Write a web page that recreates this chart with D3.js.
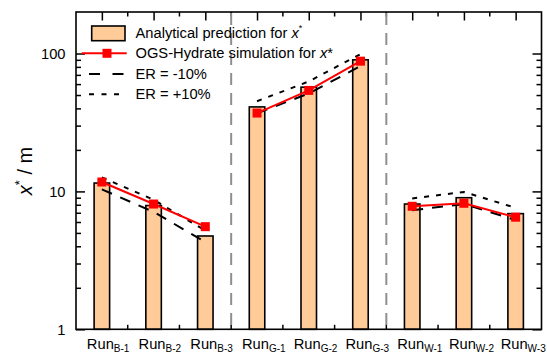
<!DOCTYPE html>
<html>
<head>
<meta charset="utf-8">
<script src="https://cdn.jsdelivr.net/npm/d3@7"></script>
<style>
  html, body { margin: 0; padding: 0; background: #fff; }
  svg { display: block; }
  text { font-family: "Liberation Sans", Arial, sans-serif; fill: #000; }
</style>
</head>
<body>
<svg id="chart" width="547" height="360"></svg>
<script>
// Runs, grouped into three series (B, G, W)
const runs = ["B-1", "B-2", "B-3", "G-1", "G-2", "G-3", "W-1", "W-2", "W-3"];
const groups = ["B", "G", "W"];
// Analytical prediction of x* (m)
const analytical = [11.5, 7.9, 4.75, 41, 57, 90, 8.1, 9.0, 6.9];
// OGS-Hydrate simulation of x* (m)
const simulation = [11.7, 8.1, 5.55, 37, 54, 88, 7.8, 8.2, 6.5];
// Error-range bounds, -10 % and +10 %
const erMinus = [10.35, 7.1, 4.3, 36.9, 51.3, 81, 7.3, 8.1, 6.2];
const erPlus = [12.65, 8.7, 5.2, 45.1, 62.7, 99, 8.9, 9.9, 7.6];
// Axis ticks
const yMajorTicks = [1, 10, 100];
const yMinorTicks = [2, 3, 4, 5, 6, 7, 8, 9, 20, 30, 40, 50, 60, 70, 80, 90];

const svg = d3.select("#chart");
const L = 76, R = 541.5, T = 12, B = 329.3;

const x = d3.scalePoint().domain(runs).range([L, R]).padding(0.5);
const y = d3.scaleLog().domain([1, 200]).range([B, T]);

const mids = runs.slice(0, -1).map((r, i) => (x(r) + x(runs[i + 1])) / 2);
const groupOf = r => r.charAt(0);

// ---- ticks (drawn first so bars cover the bottom ticks) ----
const ticks = svg.append("g");
function styleAxis(g) {
  g.select(".domain").remove();
  g.selectAll(".tick line").attr("stroke", "#000").attr("stroke-width", 1.5);
}
ticks.append("g").attr("transform", `translate(${L},0)`)
  .call(d3.axisLeft(y).tickValues(yMajorTicks).tickSize(-9).tickPadding(10.5).tickFormat(d3.format("d")))
  .call(styleAxis)
  .call(g => g.selectAll("text").attr("font-size", 14.7).attr("font-family", "Liberation Sans, Arial, sans-serif").attr("fill", "#000"));
ticks.append("g").attr("transform", `translate(${L},0)`)
  .call(d3.axisLeft(y).tickValues(yMinorTicks).tickSize(-5).tickFormat(""))
  .call(styleAxis);
ticks.append("g").attr("transform", `translate(${R},0)`)
  .call(d3.axisRight(y).tickValues(yMajorTicks).tickSize(-9).tickFormat(""))
  .call(styleAxis);
ticks.append("g").attr("transform", `translate(${R},0)`)
  .call(d3.axisRight(y).tickValues(yMinorTicks).tickSize(-5).tickFormat(""))
  .call(styleAxis);
ticks.append("g").attr("transform", `translate(0,${T})`)
  .call(d3.axisTop(x).tickSize(-8.5).tickFormat(""))
  .call(styleAxis);
ticks.append("g").attr("transform", `translate(0,${B})`)
  .call(d3.axisBottom(x).tickSize(-8.5).tickFormat(""))
  .call(styleAxis);
// minor ticks halfway between runs, top and bottom
ticks.selectAll(".minorTop").data(mids).join("line")
  .attr("x1", d => d).attr("x2", d => d).attr("y1", T).attr("y2", T + 4.5)
  .attr("stroke", "#000").attr("stroke-width", 1.5);
ticks.selectAll(".minorBot").data(mids).join("line")
  .attr("x1", d => d).attr("x2", d => d).attr("y1", B).attr("y2", B - 4.5)
  .attr("stroke", "#000").attr("stroke-width", 1.5);

// ---- group separators ----
const sepX = mids.filter((m, i) => groupOf(runs[i]) !== groupOf(runs[i + 1]));
svg.append("g").selectAll("line").data(sepX).join("line")
  .attr("x1", d => d).attr("x2", d => d).attr("y1", T + 1).attr("y2", B)
  .attr("stroke", "#8f8f8f").attr("stroke-width", 2).attr("stroke-dasharray", "12,8");

// ---- bars ----
const barW = 15.5;
svg.append("g").selectAll("rect").data(runs).join("rect")
  .attr("x", d => x(d) - barW / 2)
  .attr("width", barW)
  .attr("y", (d, i) => y(analytical[i]))
  .attr("height", (d, i) => y(1) - y(analytical[i]))
  .attr("fill", "#FFCC99").attr("stroke", "#000").attr("stroke-width", 1.6);

// ---- per-group lines ----
function groupSeries(vals) {
  return groups.map(g => runs.map((r, i) => ({ r, v: vals[i] })).filter(d => groupOf(d.r) === g));
}
const line = d3.line().x(d => x(d.r)).y(d => y(d.v));

svg.append("g").selectAll("path").data(groupSeries(erMinus)).join("path")
  .attr("d", line).attr("fill", "none").attr("stroke", "#000")
  .attr("stroke-width", 2).attr("stroke-dasharray", "11,9");
svg.append("g").selectAll("path").data(groupSeries(erPlus)).join("path")
  .attr("d", line).attr("fill", "none").attr("stroke", "#000")
  .attr("stroke-width", 2).attr("stroke-dasharray", "5,7");
svg.append("g").selectAll("path").data(groupSeries(simulation)).join("path")
  .attr("d", line).attr("fill", "none").attr("stroke", "#ff0000").attr("stroke-width", 2);
const mk = 9;
svg.append("g").selectAll("rect").data(runs).join("rect")
  .attr("x", d => x(d) - mk / 2)
  .attr("y", (d, i) => y(simulation[i]) - mk / 2)
  .attr("width", mk).attr("height", mk).attr("fill", "#ff0000");

// ---- frame ----
svg.append("rect").attr("x", L).attr("y", T).attr("width", R - L).attr("height", B - T)
  .attr("fill", "none").attr("stroke", "#000").attr("stroke-width", 1.6);

// ---- x labels: Run with subscript ----
const xl = svg.append("g").selectAll("text").data(runs).join("text")
  .attr("x", d => x(d) - 15).attr("y", 348.5).attr("font-size", 14.7);
xl.append("tspan").text("Run");
xl.append("tspan").attr("font-size", 10).attr("dy", 3.5).text(d => d);

// ---- y label ----
const yl = svg.append("text")
  .attr("transform", "translate(31.5,171) rotate(-90)")
  .attr("text-anchor", "middle").attr("font-size", 20);
yl.append("tspan").attr("font-style", "italic").text("x");
yl.append("tspan").attr("font-size", 13).attr("dy", -8).text("*");
yl.append("tspan").attr("dy", 8).text(" / m");

// ---- legend ----
const lg = svg.append("g");
lg.append("rect").attr("x", 91.7).attr("y", 26).attr("width", 33.3).attr("height", 14.7)
  .attr("fill", "#FFCC99").attr("stroke", "#000").attr("stroke-width", 1.6);
lg.append("line").attr("x1", 81.7).attr("x2", 126.7).attr("y1", 53.3).attr("y2", 53.3)
  .attr("stroke", "#ff0000").attr("stroke-width", 2);
lg.append("rect").attr("x", 107 - mk / 2).attr("y", 53.3 - mk / 2).attr("width", mk).attr("height", mk)
  .attr("fill", "#ff0000");
lg.append("line").attr("x1", 89).attr("x2", 124.5).attr("y1", 74).attr("y2", 74)
  .attr("stroke", "#000").attr("stroke-width", 2).attr("stroke-dasharray", "11,12.5");
lg.append("line").attr("x1", 89).attr("x2", 121).attr("y1", 94.3).attr("y2", 94.3)
  .attr("stroke", "#000").attr("stroke-width", 2).attr("stroke-dasharray", "5,7.5");

const t1 = lg.append("text").attr("x", 135.5).attr("y", 38.3).attr("font-size", 14.7);
t1.append("tspan").text("Analytical prediction for ");
t1.append("tspan").attr("font-style", "italic").text("x");
t1.append("tspan").attr("font-size", 9).attr("dy", -7).text("*");
const t2 = lg.append("text").attr("x", 135.5).attr("y", 58.3).attr("font-size", 14.7);
t2.append("tspan").text("OGS-Hydrate simulation for ");
t2.append("tspan").attr("font-style", "italic").text("x");
t2.append("tspan").text("*");
lg.append("text").attr("x", 135.5).attr("y", 79).attr("font-size", 14.7).text("ER = -10%");
lg.append("text").attr("x", 135.5).attr("y", 99).attr("font-size", 14.7).text("ER = +10%");
</script>
</body>
</html>
